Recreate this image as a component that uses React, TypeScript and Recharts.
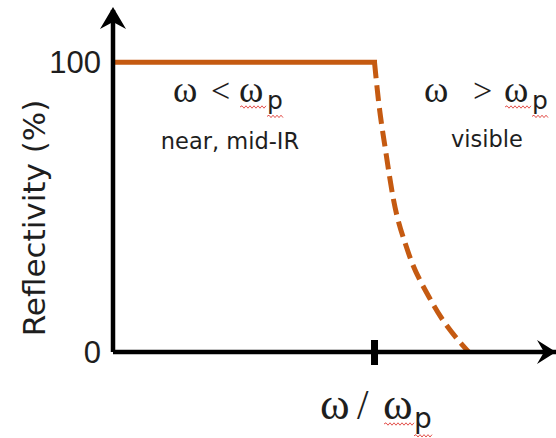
import React from 'react'
import {
  LineChart,
  Line,
  XAxis,
  YAxis,
  ReferenceDot,
  Customized,
} from 'recharts'

// reflectivity vs normalised frequency (omega / omega_p)
const flatFreq = [0, 1]
const flatRefl = [100, 100]
const tailFreq = [1.0, 1.015, 1.042, 1.073, 1.126, 1.215, 1.36]
const tailRefl = [100, 86.9, 69.7, 52.4, 35.2, 17.9, 0]
const yTicks = [0, 100]
const plasmaTick = 1

const flatData = flatFreq.map((x, i) => ({ x, r: flatRefl[i] }))
const tailData = tailFreq.map((x, i) => ({ x, r: tailRefl[i] }))

const ORANGE = '#c55a11'
const INK = '#1e1e1e'
const SERIF = '"Liberation Serif", "DejaVu Serif", serif'
const SANS = '"DejaVu Sans", sans-serif'

const UpArrow = (props: any) => {
  const { cx, cy } = props
  const t = cy - 3
  return (
    <path
      d={`M${cx},${t} L${cx - 13},${t + 22} L${cx},${t + 15} L${cx + 13},${t + 22} Z`}
      fill="#000"
    />
  )
}

const RightArrow = (props: any) => {
  const { cx, cy } = props
  return (
    <path
      d={`M${cx},${cy} L${cx - 19},${cy - 12} L${cx - 12},${cy} L${cx - 19},${cy + 12} Z`}
      fill="#000"
    />
  )
}

const TickMark = (props: any) => {
  const { cx, cy } = props
  return <rect x={cx - 3.5} y={cy - 12} width={7} height={25} fill="#000" />
}

// spell-check style squiggle
const squiggle = (x0: number, x1: number, y: number) => {
  let d = `M${x0},${y}`
  let up = true
  for (let x = x0 + 2; x <= x1; x += 2) {
    d += ` L${x},${y + (up ? -1.2 : 1.2)}`
    up = !up
  }
  return <path d={d} fill="none" stroke="#e0403a" strokeWidth={0.9} />
}

// omega <op> omega_p, each glyph placed on its own
const Ratio = ({ xs, y, op, size, sub }: { xs: number[]; y: number; op: string; size: number; sub: number }) => (
  <g>
    <text x={xs[0]} y={y} fontFamily={SERIF} fontSize={size}>ω</text>
    <text x={xs[1]} y={y} fontFamily={SERIF} fontSize={size * 0.92}>{op}</text>
    <text x={xs[2]} y={y} fontFamily={SERIF} fontSize={size}>ω</text>
    <text x={xs[3]} y={y + size * 0.2} fontFamily={SANS} fontSize={sub}>p</text>
    {squiggle(xs[2] + 1, xs[3], y + 5)}
    {squiggle(xs[3], xs[3] + sub * 0.7, y + size * 0.2 + sub * 0.28)}
  </g>
)

const Notes = () => (
  <g fill={INK}>
    <Ratio xs={[173, 211, 239, 267]} y={102} op="<" size={37} sub={25} />
    <text x={230} y={149} fontFamily={SANS} fontSize={22.5} textAnchor="middle">
      near, mid-IR
    </text>

    <Ratio xs={[424, 473, 504, 532]} y={102} op=">" size={37} sub={25} />
    <text x={487} y={147} fontFamily={SANS} fontSize={22.5} textAnchor="middle">
      visible
    </text>

    <Ratio xs={[320, 357, 383, 414]} y={419} op="/" size={45} sub={28} />

    <text
      x={0}
      y={0}
      fontFamily={SANS}
      fontSize={31}
      textAnchor="middle"
      transform="translate(45, 218) rotate(-90)"
    >
      Reflectivity (%)
    </text>
  </g>
)

export default function App() {
  return (
    <div style={{ position: 'absolute', left: 0, top: 0, background: '#fff' }}>
      <LineChart width={556} height={438} margin={{ top: 10, right: 0, bottom: 0, left: 0 }}>
        <XAxis
          type="number"
          dataKey="x"
          domain={[0, 1.694]}
          allowDataOverflow
          height={86}
          tick={false}
          tickLine={false}
          axisLine={{ stroke: '#000', strokeWidth: 4.5 }}
        />
        <YAxis
          type="number"
          dataKey="r"
          domain={[0, 118]}
          ticks={yTicks}
          width={113}
          tickLine={false}
          tickMargin={6}
          tick={{ fill: INK, fontSize: 31, fontFamily: '"Liberation Sans", sans-serif' }}
          axisLine={{ stroke: '#000', strokeWidth: 4.5 }}
        />
        <Line
          data={flatData}
          dataKey="r"
          type="linear"
          stroke={ORANGE}
          strokeWidth={5}
          strokeLinecap="square"
          dot={false}
          isAnimationActive={false}
        />
        <Line
          data={tailData}
          dataKey="r"
          type="monotone"
          stroke={ORANGE}
          strokeWidth={5}
          strokeDasharray="16 7"
          dot={false}
          isAnimationActive={false}
        />
        <ReferenceDot x={0} y={118} r={0} ifOverflow="visible" shape={UpArrow} />
        <ReferenceDot x={1.694} y={0} r={0} ifOverflow="visible" shape={RightArrow} />
        <ReferenceDot x={plasmaTick} y={0} r={0} ifOverflow="visible" shape={TickMark} />
        <Customized component={Notes} />
      </LineChart>
    </div>
  )
}
